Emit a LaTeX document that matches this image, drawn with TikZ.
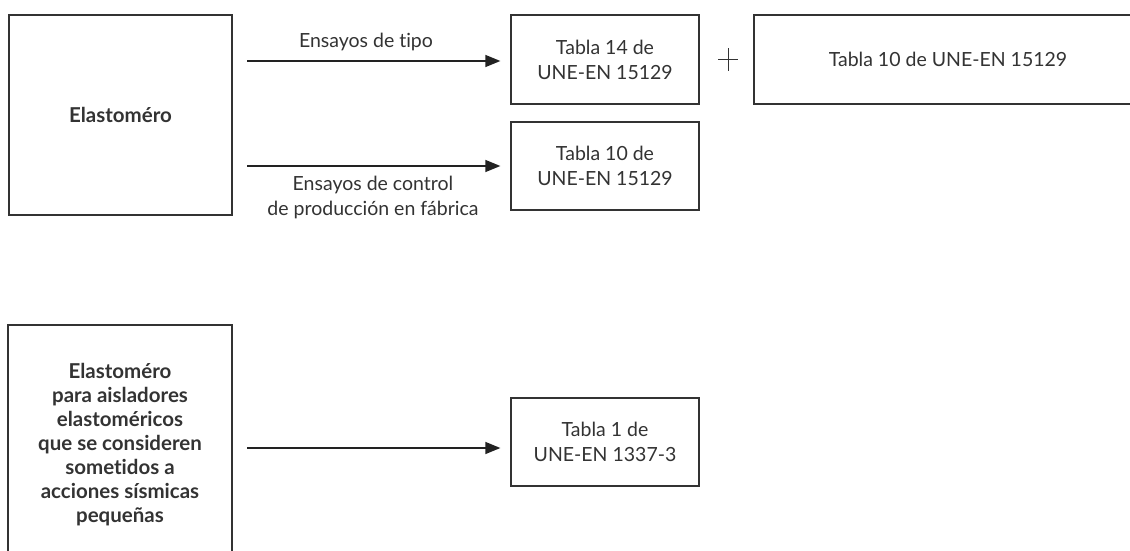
\documentclass[tikz,border=0pt]{standalone}
\usepackage{fontspec}
\setmainfont{Lato}[Ligatures=NoCommon]
\usetikzlibrary{arrows.meta}
\definecolor{ink}{HTML}{333333}
\definecolor{lineink}{HTML}{222222}
\begin{document}
\begin{tikzpicture}[x=1pt,y=-1pt,
  box/.style={draw=ink, line width=1.3pt, text=ink, align=center, inner sep=0pt,
    font=\fontsize{19.5}{25}\selectfont},
  boldbox/.style={box, font=\bfseries\fontsize{20.5}{24}\selectfont},
  lbl/.style={text=ink, align=center, inner sep=0pt, font=\fontsize{19.5}{25}\selectfont},
  conn/.style={draw=lineink, line width=1.3pt, -{Triangle[length=15pt,width=12pt]}},
  plusline/.style={draw=ink, line width=1pt}]
\clip (0,0) rectangle (1130,551);
\fill[white] (0,0) rectangle (1130,551);
% top group
\node[boldbox, minimum width=223pt, minimum height=200pt] (e1) at (120.5,115) {Elastoméro};
\node[box, minimum width=188pt, minimum height=89pt] (t14) at (605,59.5) {Tabla 14 de\\UNE-EN 15129};
\node[box, minimum width=388pt, minimum height=89pt] (wide) at (948,59.5) {Tabla 10 de UNE-EN 15129};
\node[box, minimum width=188pt, minimum height=88pt] (t10) at (605,166) {Tabla 10 de\\UNE-EN 15129};
\coordinate (a1) at (247,61);
\coordinate (a2) at (247,166);
\draw[conn, shorten >=10pt] (a1) -- (a1 -| t14.west);
\draw[conn, shorten >=10pt] (a2) -- (a2 -| t10.west);
\node[lbl] (l1) at (366,42) {Ensayos de tipo};
\node[lbl] (l2) at (373,197.5) {Ensayos de control\\de producción en fábrica};
\coordinate (p) at (728,59.5);
\draw[plusline] ([xshift=-10pt]p) -- ([xshift=10pt]p);
\draw[plusline] ([yshift=-11.5pt]p) -- ([yshift=11.5pt]p);
% bottom group
\node[boldbox, minimum width=224pt, minimum height=240pt] (e2) at (120,445)
  {Elastoméro\\para aisladores\\elastoméricos\\que se consideren\\sometidos a\\acciones sísmicas\\pequeñas};
\node[box, minimum width=188pt, minimum height=88pt] (t1) at (605,442) {Tabla 1 de\\UNE-EN 1337-3};
\coordinate (a3) at (247,448);
\draw[conn, shorten >=10pt] (a3) -- (a3 -| t1.west);
\end{tikzpicture}
\end{document}
